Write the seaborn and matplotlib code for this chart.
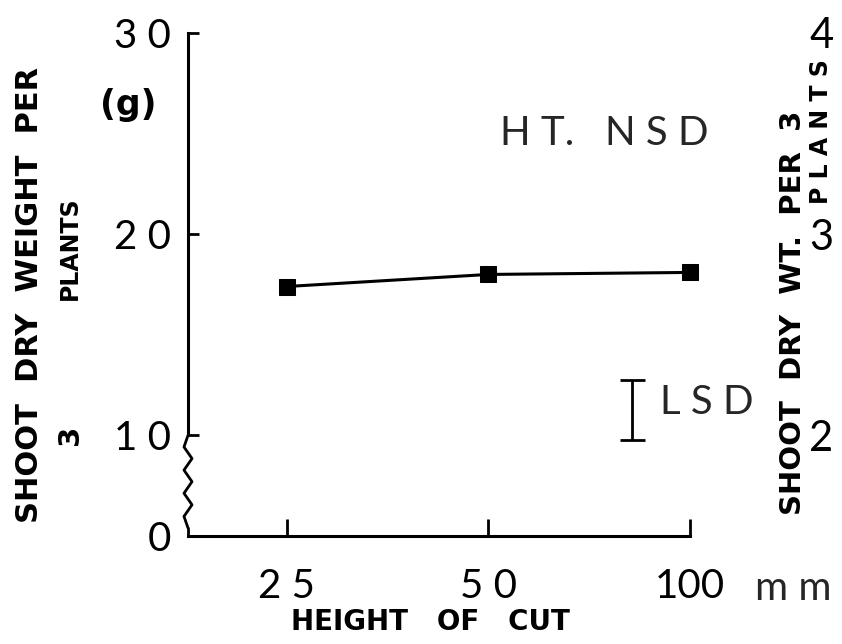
"""Shoot dry weight vs height of cut (re-drawn from a scanned figure)."""

import matplotlib

matplotlib.use("Agg")

import matplotlib.pyplot as plt
import numpy as np
import pandas as pd
import seaborn as sns

# values
cut_heights = ["2 5", "5 0", "100"]
dry_weight = [17.4, 18.0, 18.1]
lsd_center = 11.25
lsd_half = 1.5
left_ticks = [5, 10, 20, 30]          # 5 stands for the broken-axis "0"
left_tick_labels = ["0", "1 0", "2 0", "3 0"]
right_ticks = [2, 3, 4]

NUM_FONT = "Lato"
HAND_FONT = "DejaVu Sans"

sns.set_theme(style="white")
plt.rcParams["font.family"] = [NUM_FONT, "DejaVu Sans"]

df = pd.DataFrame({"cut": cut_heights, "weight": dry_weight})
df["pos"] = np.arange(len(df))

fig = plt.figure(figsize=(8.42, 6.44), dpi=100)
ax = fig.add_axes([188 / 842, 108 / 644, (690 - 188) / 842, (611 - 108) / 644])

sns.lineplot(data=df, x="pos", y="weight", color="black", linewidth=2.2,
             marker="s", markersize=12, markeredgecolor="black",
             clip_on=False, ax=ax)

ax.set_xlim(-0.49, 2.0)
ax.set_ylim(5, 30)

# axes and ticks
for side in ["top", "right"]:
    ax.spines[side].set_visible(False)
ax.spines["left"].set_bounds(10, 30)
for side in ["left", "bottom"]:
    ax.spines[side].set_linewidth(2.2)
    ax.spines[side].set_color("black")

zig_y = np.linspace(5.4, 10, 9)
zig_x = np.array([0, -1, 1, -1, 1, -1, 1, -1, 0]) * 0.008
ax.plot(zig_x, zig_y, color="black", lw=2, clip_on=False,
        transform=ax.get_yaxis_transform())
ax.plot([0, 0], [5, 5.4], color="black", lw=2, clip_on=False,
        transform=ax.get_yaxis_transform())

ax.set_yticks(left_ticks)
ax.set_yticklabels(left_tick_labels)
ax.set_xticks(df["pos"])
ax.set_xticklabels(cut_heights)
ax.tick_params(axis="y", direction="in", length=8, width=2, pad=12,
               labelsize=29, colors="black", left=True)
ax.tick_params(axis="x", direction="in", length=12, width=2, pad=23,
               labelsize=29, colors="black", bottom=True)
ax.set_xlabel("")
ax.set_ylabel("")

# right-hand scale, close to the figure edge
ax2 = ax.twinx()
ax2.set_ylim(1.5, 4.0)
ax2.set_yticks(right_ticks)
ax2.tick_params(axis="y", length=0, pad=86, labelsize=30, colors="black")
for side in ["top", "right", "left", "bottom"]:
    ax2.spines[side].set_visible(False)

# LSD bar
ax.errorbar([1.71], [lsd_center], yerr=[lsd_half], color="black", lw=2,
            capsize=9, capthick=2)
ax.text(1.85, lsd_center + 0.4, "L S D", fontsize=29, va="center", ha="left")
ax.text(1.06, 25, "H T.   N S D", fontsize=29, va="center", ha="left")

# hand-lettered labels
hand = dict(fontfamily=HAND_FONT, fontweight="bold", color="black")
fig.text(30 / 842, 1 - 295 / 644, "SHOOT  DRY  WEIGHT  PER", rotation=90,
         fontsize=22, ha="center", va="center", **hand)
fig.text(70 / 842, 1 - 435 / 644, "3", rotation=90, fontsize=21,
         ha="center", va="center", **hand)
fig.text(70 / 842, 1 - 248 / 644, "PLANTS", rotation=90, fontsize=17,
         ha="center", va="center", **hand)
fig.text(128 / 842, 1 - 105 / 644, "(g)", fontsize=25, ha="center",
         va="center", **hand)
fig.text(430 / 842, 1 - 622 / 644, "HEIGHT   OF   CUT", fontsize=20,
         ha="center", va="center", **hand)
fig.text(793 / 842, 1 - 313 / 644, "SHOOT  DRY  WT.  PER  3", rotation=90,
         fontsize=21, ha="center", va="center", **hand)
fig.text(821 / 842, 1 - 132 / 644, "P L A N T S", rotation=90, fontsize=17,
         ha="center", va="center", **hand)
fig.text(755 / 842, 1 - 589 / 644, "m m", fontsize=29, ha="left",
         va="center")

fig.savefig("out.png", dpi=100, facecolor="white")
